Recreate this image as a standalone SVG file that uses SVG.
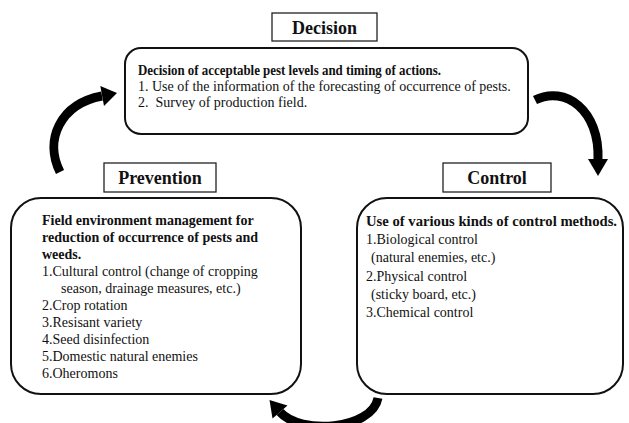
<svg xmlns="http://www.w3.org/2000/svg" width="629" height="423" viewBox="0 0 629 423">
<style>
.lbl{fill:#fff;stroke:#222;stroke-width:1.3}
.box{fill:#fff;stroke:#111;stroke-width:2}
text{font-family:"Liberation Serif","Times New Roman",serif;fill:#111}
.t{font-size:18px;font-weight:bold;text-anchor:middle}
.b{font-size:14px;font-weight:bold}
.n{font-size:14px}
.arc{fill:none;stroke:#000;stroke-width:9}
.hd{fill:#000}
</style>
<rect width="629" height="423" fill="#fff"/>
<g id="decision">
<rect class="lbl" x="272" y="13" width="105" height="28"/>
<text class="t" x="324.5" y="34">Decision</text>
<rect class="box" x="125" y="48" width="403" height="86" rx="16"/>
<text class="b" x="138" y="75" textLength="303" lengthAdjust="spacingAndGlyphs">Decision of acceptable pest levels and timing of actions.</text>
<text class="n" x="138" y="91">1. Use of the information of the forecasting of occurrence of pests.</text>
<text class="n" x="138" y="107" xml:space="preserve">2.  Survey of production field.</text>
</g>
<g id="prevention">
<rect class="lbl" x="104" y="163" width="112" height="29"/>
<text class="t" x="160" y="184">Prevention</text>
<rect class="box" x="11" y="198" width="290" height="196" rx="30"/>
<text class="b" x="42" y="225">Field environment management for</text>
<text class="b" x="42" y="242">reduction of occurrence of pests and</text>
<text class="b" x="42" y="259">weeds.</text>
<text class="n" x="42" y="276">1.Cultural control (change of cropping</text>
<text class="n" x="61" y="293">season, drainage measures, etc.)</text>
<text class="n" x="42" y="310">2.Crop rotation</text>
<text class="n" x="42" y="327">3.Resisant variety</text>
<text class="n" x="42" y="344">4.Seed disinfection</text>
<text class="n" x="42" y="361">5.Domestic natural enemies</text>
<text class="n" x="42" y="378">6.Oheromons</text>
</g>
<g id="control">
<rect class="lbl" x="443" y="163" width="108" height="29"/>
<text class="t" x="497" y="184">Control</text>
<rect class="box" x="357" y="198" width="266" height="196" rx="30"/>
<text class="b" x="366" y="226" textLength="251" lengthAdjust="spacingAndGlyphs">Use of various kinds of control methods.</text>
<text class="n" x="366" y="244">1.Biological control</text>
<text class="n" x="371" y="262">(natural enemies, etc.)</text>
<text class="n" x="366" y="281">2.Physical control</text>
<text class="n" x="371" y="299">(sticky board, etc.)</text>
<text class="n" x="366" y="317">3.Chemical control</text>
</g>
<g id="connectors">
<path class="arc" d="M60,172 C44,140 60,104 102,96"/>
<polygon class="hd" points="100.3,86 104,106 117,93"/>
<path class="arc" d="M535,100 C565,85 600,110 598,160"/>
<polygon class="hd" points="588,159 608,159 598,176"/>
<path class="arc" d="M378,398 C372,430 300,435 280,412"/>
<polygon class="hd" points="287.5,405.5 272.5,418.5 269.5,400"/>
</g>
</svg>
